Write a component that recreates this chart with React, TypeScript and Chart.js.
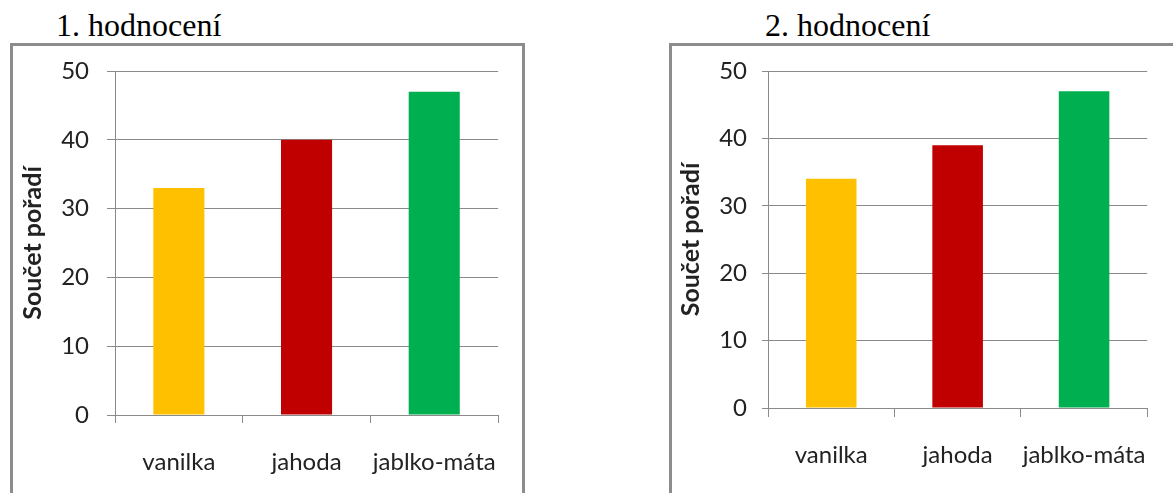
import { useEffect, useRef } from 'react';
import { Chart, registerables } from 'chart.js';

Chart.register(...registerables);

// Sensory ranking of three flavours, summed ranks per round
const categories = ['vanilka', 'jahoda', 'jablko-máta'];
const round1Values = [33, 40, 47];
const round2Values = [34, 39, 47];
const barColors = ['#FFC000', '#C00000', '#00B050'];
const panelTitles = ['1. hodnocení', '2. hodnocení'];
const axisTitle = 'Součet pořadí';
const yMin = 0;
const yMax = 50;
const yStep = 10;

const GRID = '#8a8a8a';
const TEXT = '#222222';
const SANS = 'Lato, "Open Sans", sans-serif';

type Geometry = {
  left: number; // canvas left on the page
  width: number; // canvas width
  frameWidth: number;
  titleLeft: number;
  areaLeft: number; // plot area left, canvas coordinates
  padRight: number;
  areaTop: number;
  areaBottom: number;
  yTitleX: number; // centre of the rotated axis title
  yTickLen: number;
  yTickPad: number;
  xTickLen: number;
  xLabelPad: number;
};

const HEIGHT = 493;

function Panel({ title, values, g }: { title: string; values: number[]; g: Geometry }) {
  const ref = useRef<HTMLCanvasElement | null>(null);

  useEffect(() => {
    if (!ref.current) return;
    const titleSize = 25;
    const padLeft = g.yTitleX - titleSize / 2;
    const chart = new Chart(ref.current, {
      type: 'bar',
      data: {
        labels: categories,
        datasets: [
          {
            data: values,
            backgroundColor: barColors,
            borderWidth: 0,
            barPercentage: 0.4,
            categoryPercentage: 1,
          },
        ],
      },
      options: {
        responsive: false,
        animation: false,
        devicePixelRatio: 1,
        layout: {
          padding: { left: padLeft, right: g.padRight, top: g.areaTop, bottom: 0 },
        },
        plugins: {
          legend: { display: false },
          tooltip: { enabled: false },
          title: { display: false },
        },
        scales: {
          x: {
            type: 'category',
            offset: true,
            grid: {
              offset: true,
              drawOnChartArea: false,
              drawTicks: true,
              tickLength: g.xTickLen,
              color: GRID,
              lineWidth: 1,
            },
            border: { display: true, color: GRID, width: 1 },
            ticks: {
              color: TEXT,
              font: { family: SANS, size: 24 },
              padding: g.xLabelPad,
              maxRotation: 0,
              autoSkip: false,
            },
            afterFit: (scale: any) => {
              scale.height = HEIGHT - g.areaBottom;
            },
          },
          y: {
            min: yMin,
            max: yMax,
            grid: {
              drawTicks: true,
              tickLength: g.yTickLen,
              color: GRID,
              lineWidth: 1,
            },
            border: { display: true, color: GRID, width: 1 },
            ticks: {
              stepSize: yStep,
              color: TEXT,
              font: { family: SANS, size: 24 },
              padding: g.yTickPad,
            },
            title: {
              display: true,
              text: axisTitle,
              color: TEXT,
              font: { family: SANS, size: titleSize, weight: 'bold', lineHeight: 1 },
              padding: 0,
            },
            afterFit: (scale: any) => {
              scale.width = g.areaLeft - padLeft;
            },
          },
        },
      },
    });
    return () => chart.destroy();
  }, [values, g]);

  return (
    <>
      <div
        style={{
          position: 'absolute',
          left: g.titleLeft,
          top: 9,
          fontFamily: '"Liberation Serif", "Times New Roman", serif',
          fontSize: 32,
          lineHeight: '32px',
          color: '#000',
          whiteSpace: 'nowrap',
        }}
      >
        {title}
      </div>
      <div
        style={{
          position: 'absolute',
          left: g.left,
          top: 43,
          width: g.frameWidth,
          height: 480,
          boxSizing: 'border-box',
          border: '3px solid #8c8c8c',
          background: '#fff',
        }}
      />
      <canvas
        ref={ref}
        width={g.width}
        height={HEIGHT}
        style={{ position: 'absolute', left: g.left, top: 0, width: g.width, height: HEIGHT, display: 'block' }}
      />
    </>
  );
}

const leftPanel: Geometry = {
  left: 10,
  width: 515,
  frameWidth: 515,
  titleLeft: 56,
  areaLeft: 105,
  padRight: 26,
  areaTop: 71,
  areaBottom: 415,
  yTitleX: 23,
  yTickLen: 8,
  yTickPad: 18,
  xTickLen: 8,
  xLabelPad: 25,
};

const rightPanel: Geometry = {
  left: 669,
  width: 504,
  frameWidth: 530,
  titleLeft: 765,
  areaLeft: 99,
  padRight: 21,
  areaTop: 71,
  areaBottom: 408,
  yTitleX: 22,
  yTickLen: 6,
  yTickPad: 15,
  xTickLen: 9,
  xLabelPad: 24,
};

export default function App() {
  return (
    <div
      style={{
        position: 'absolute',
        left: 0,
        top: 0,
        width: 1173,
        height: HEIGHT,
        overflow: 'hidden',
        background: '#fff',
      }}
    >
      <Panel title={panelTitles[0]} values={round1Values} g={leftPanel} />
      <Panel title={panelTitles[1]} values={round2Values} g={rightPanel} />
    </div>
  );
}
